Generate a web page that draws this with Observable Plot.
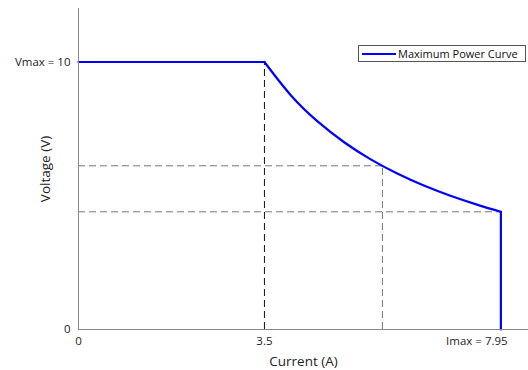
<!DOCTYPE html>
<html>
<head>
<meta charset="utf-8">
<script src="https://cdn.jsdelivr.net/npm/d3@7"></script>
<script src="https://cdn.jsdelivr.net/npm/@observablehq/plot@0.6"></script>
<style>
  html, body { margin: 0; padding: 0; background: #fff; }
  #wrap { position: relative; width: 528px; height: 370px; }
  #legend {
    position: absolute; left: 358px; top: 45px; width: 168px; height: 17px;
    border: 1px solid #555; background: #fff; box-sizing: border-box;
    font: 11px "Open Sans", sans-serif; color: #111;
    display: flex; align-items: center; white-space: nowrap;
  }
  #legend .sw { width: 34px; height: 2px; background: #0000ff; margin: 0 2px 0 3px; }
</style>
</head>
<body>
<div id="wrap"></div>
<script>
// Maximum power curve segments
const flatI = [0, 3.5];
const flatV = [10, 10];
const hyperI = [3.5, 4.0, 4.5, 5.0, 5.5, 6.0, 6.5, 7.0, 7.5, 7.95];
const hyperV = [10, 8.75, 7.78, 7.0, 6.36, 5.83, 5.38, 5.0, 4.67, 4.40];
const dropI = [7.95, 7.95];
const dropV = [4.40, 0];

// Guide (dashed) lines
const guideVertI = [3.5, 5.72];
const guideVertV = [10, 6.12];
const guideVertColor = ["#111", "#777"];
const guideHorzV = [6.12, 4.40];
const guideHorzI = [5.72, 7.95];

const xTicks = [0, 3.5, 7.95];
const xTickLabels = ["0", "3.5", "Imax = 7.95"];
const yTicks = [0, 10];
const yTickLabels = ["0", "Vmax = 10"];

const curve = [
  ...flatI.map((c, i) => ({I: c, V: flatV[i], seg: "flat"})),
  ...hyperI.map((c, i) => ({I: c, V: hyperV[i], seg: "hyper"})),
  ...dropI.map((c, i) => ({I: c, V: dropV[i], seg: "drop"}))
];
const vGuides = guideVertI.map((c, i) => ({I: c, V: guideVertV[i], color: guideVertColor[i]}));
const hGuides = guideHorzV.map((v, i) => ({V: v, I: guideHorzI[i]}));
const xFmt = (d) => xTickLabels[xTicks.indexOf(d)];

const chart = Plot.plot({
  width: 528,
  height: 370,
  marginLeft: 78,
  marginRight: 0,
  marginTop: 8,
  marginBottom: 41,
  style: {fontFamily: "'Open Sans', sans-serif", fontSize: "11.5px", color: "#222", background: "#fff"},
  x: {domain: [0, 8.47]},
  y: {domain: [0, 12]},
  marks: [
    Plot.ruleX(vGuides, {x: "I", y1: 0, y2: "V", stroke: "color", strokeDasharray: "7,4", strokeWidth: 1}),
    Plot.ruleY(hGuides, {y: "V", x1: 0, x2: "I", stroke: "#777", strokeDasharray: "7,4", strokeWidth: 1}),
    Plot.line(curve, {x: "I", y: "V", z: "seg", stroke: "#0000ff", strokeWidth: 2.2, curve: "natural"}),
    Plot.ruleX([0], {stroke: "#888", strokeWidth: 1}),
    Plot.ruleY([0], {stroke: "#888", strokeWidth: 1}),
    Plot.axisX(xTicks.slice(0, 2), {tickFormat: xFmt, tickSize: 0, tickPadding: 7, label: null}),
    Plot.axisX(xTicks.slice(2), {tickFormat: xFmt, tickSize: 0, tickPadding: 7, dx: -24, label: null}),
    Plot.axisY(yTicks, {tickFormat: (d) => yTickLabels[yTicks.indexOf(d)], tickSize: 0, tickPadding: 8, label: null}),
    Plot.axisX({ticks: [], label: "Current (A)", labelAnchor: "center", labelOffset: 36, labelArrow: "none", fontSize: 13.5}),
    Plot.axisY({ticks: [], label: "Voltage (V)", labelAnchor: "center", labelOffset: 38, labelArrow: "none", fontSize: 13.5})
  ]
});
const wrap = document.getElementById("wrap");
wrap.appendChild(chart);
const lg = document.createElement("div");
lg.id = "legend";
lg.innerHTML = '<div class="sw"></div><span>Maximum Power Curve</span>';
wrap.appendChild(lg);
</script>
</body>
</html>
